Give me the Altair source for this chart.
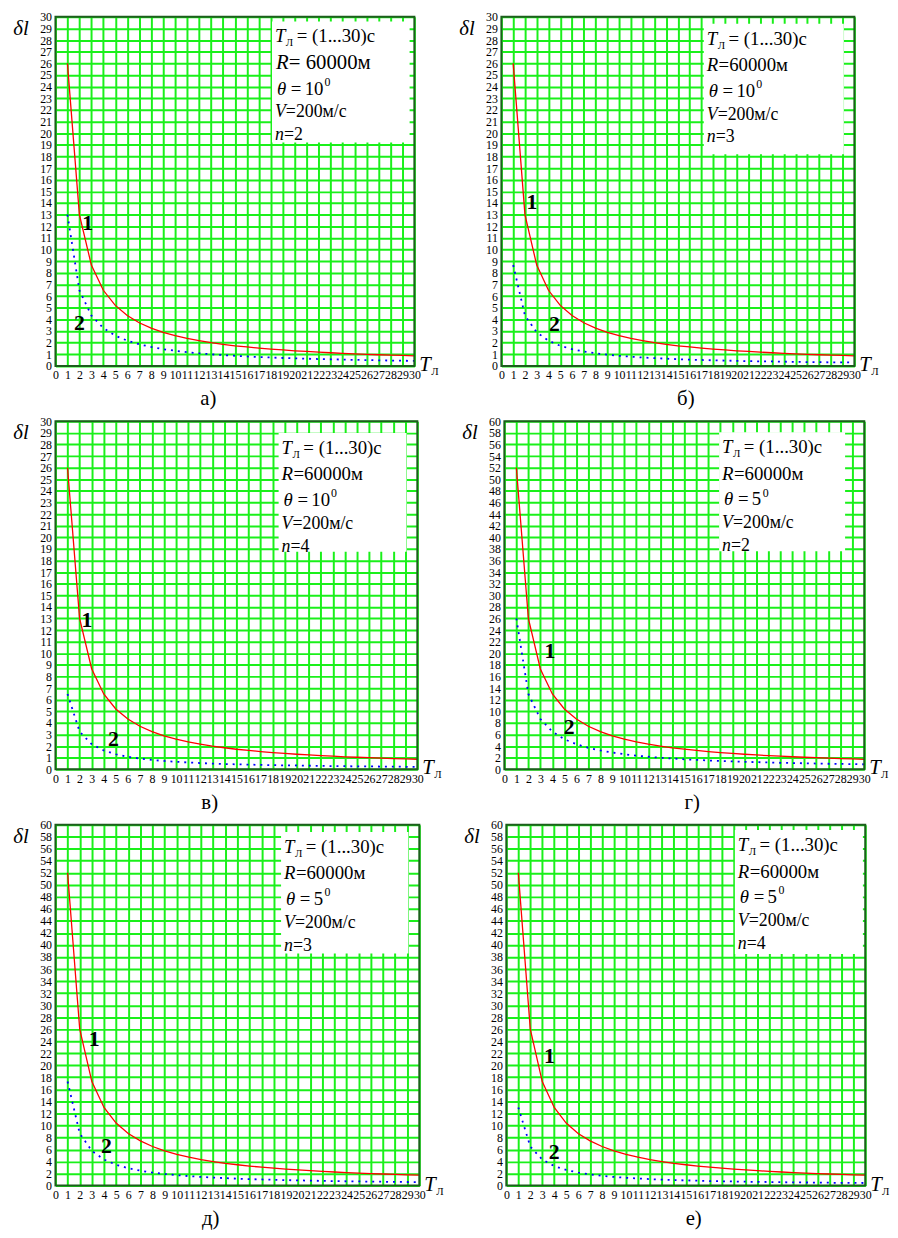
import altair as alt
import pandas as pd

SERIF = "Times New Roman, Liberation Serif, serif"

# ---------------- data ----------------
T = list(range(1, 31))

c1_theta10 = [26.0, 13.0, 8.67, 6.5, 5.2, 4.33, 3.71, 3.25, 2.89, 2.6, 2.36, 2.17, 2.0, 1.86, 1.73,
              1.63, 1.53, 1.44, 1.37, 1.3, 1.24, 1.18, 1.13, 1.08, 1.04, 1.0, 0.96, 0.93, 0.9, 0.87]
c2_theta10_n2 = [13.0, 6.5, 4.33, 3.25, 2.6, 2.17, 1.86, 1.63, 1.44, 1.3, 1.18, 1.08, 1.0, 0.93, 0.87,
                 0.81, 0.76, 0.72, 0.68, 0.65, 0.62, 0.59, 0.57, 0.54, 0.52, 0.5, 0.48, 0.46, 0.45, 0.43]
c2_theta10_n3 = [8.67, 4.33, 2.89, 2.17, 1.73, 1.44, 1.24, 1.08, 0.96, 0.87, 0.79, 0.72, 0.67, 0.62, 0.58,
                 0.54, 0.51, 0.48, 0.46, 0.43, 0.41, 0.39, 0.38, 0.36, 0.35, 0.33, 0.32, 0.31, 0.3, 0.29]
c2_theta10_n4 = [6.5, 3.25, 2.17, 1.63, 1.3, 1.08, 0.93, 0.81, 0.72, 0.65, 0.59, 0.54, 0.5, 0.46, 0.43,
                 0.41, 0.38, 0.36, 0.34, 0.33, 0.31, 0.3, 0.28, 0.27, 0.26, 0.25, 0.24, 0.23, 0.22, 0.22]
c1_theta5 = [52.0, 26.0, 17.3, 13.0, 10.4, 8.67, 7.43, 6.5, 5.78, 5.2, 4.73, 4.33, 4.0, 3.71, 3.47,
             3.25, 3.06, 2.89, 2.74, 2.6, 2.48, 2.36, 2.26, 2.17, 2.08, 2.0, 1.93, 1.86, 1.79, 1.73]
c2_theta5_n2 = [26.0, 13.0, 8.67, 6.5, 5.2, 4.33, 3.71, 3.25, 2.89, 2.6, 2.36, 2.17, 2.0, 1.86, 1.73,
                1.63, 1.53, 1.44, 1.37, 1.3, 1.24, 1.18, 1.13, 1.08, 1.04, 1.0, 0.96, 0.93, 0.9, 0.87]
c2_theta5_n3 = [17.3, 8.67, 5.78, 4.33, 3.47, 2.89, 2.48, 2.17, 1.93, 1.73, 1.58, 1.44, 1.33, 1.24, 1.16,
                1.08, 1.02, 0.96, 0.91, 0.87, 0.83, 0.79, 0.75, 0.72, 0.69, 0.67, 0.64, 0.62, 0.6, 0.58]
c2_theta5_n4 = [13.0, 6.5, 4.33, 3.25, 2.6, 2.17, 1.86, 1.63, 1.44, 1.3, 1.18, 1.08, 1.0, 0.93, 0.87,
                0.81, 0.76, 0.72, 0.68, 0.65, 0.62, 0.59, 0.57, 0.54, 0.52, 0.5, 0.48, 0.46, 0.45, 0.43]

x_ticks = list(range(0, 31))
y_ticks_30 = list(range(0, 31))
y_ticks_60 = list(range(0, 61, 2))

captions = ["а)", "б)", "в)", "г)", "д)", "е)"]
theta_vals = ["10", "10", "10", "5", "5", "5"]
n_vals = ["2", "3", "4", "2", "3", "4"]
curve1 = [c1_theta10, c1_theta10, c1_theta10, c1_theta5, c1_theta5, c1_theta5]
curve2 = [c2_theta10_n2, c2_theta10_n3, c2_theta10_n4, c2_theta5_n2, c2_theta5_n3, c2_theta5_n4]
y_max = [30, 30, 30, 60, 60, 60]
y_ticks = [y_ticks_30, y_ticks_30, y_ticks_30, y_ticks_60, y_ticks_60, y_ticks_60]

# layout / annotation placement (in data units of each panel)
box = [  # x0, x1, y0, y1
    (18.1, 29.6, 19.2, 29.6),
    (17.2, 29.1, 18.2, 29.4),
    (18.5, 29.1, 18.75, 29.0),
    (17.9, 28.4, 37.6, 58.1),
    (18.6, 29.1, 38.6, 58.8),
    (19.1, 29.8, 38.5, 59.1),
]
lab1 = [(2.7, 12.3), (2.6, 14.1), (2.6, 12.9), (3.8, 20.3), (3.2, 24.4), (3.6, 21.6)]
lab2 = [(2.0, 3.7), (4.5, 3.6), (4.8, 2.6), (5.4, 7.2), (4.2, 6.5), (4.0, 5.5)]
sizes = [(363, 353), (357, 353), (366, 352), (364, 352), (368, 365), (363, 365)]
cap_dx = [-27, 8, -27, 8, -27, 8]

GRID = "#1af01a"
FRAME = "#1d5e1d"


def xenc(field, p):
    return alt.X(field, type="quantitative",
                 scale=alt.Scale(domain=[0, 30], nice=False, zero=False),
                 axis=alt.Axis(values=x_ticks, title=None, grid=True, gridColor=GRID, gridWidth=2,
                               gridOpacity=1, ticks=False, domain=False, labelFont=SERIF,
                               labelFontSize=12, labelColor="black", labelPadding=4,
                               labelOverlap=False, labelFlush=False, labelBound=False,
                               format="d"))


def yenc(field, p):
    return alt.Y(field, type="quantitative",
                 scale=alt.Scale(domain=[0, y_max[p]], nice=False, zero=False),
                 axis=alt.Axis(values=y_ticks[p], title=None, grid=True, gridColor=GRID, gridWidth=2,
                               gridOpacity=1, ticks=False, domain=False, labelFont=SERIF,
                               labelFontSize=12, labelColor="black", labelPadding=4,
                               labelOverlap=False, labelFlush=False, labelBound=False,
                               format="d"))


def txt(p, x, y, s, size, dx=0, dy=0, italic=False, bold=False, align="left",
        baseline="alphabetic"):
    kw = dict(text=s, font=SERIF, fontSize=size, dx=dx, dy=dy, align=align,
              baseline=baseline, color="black")
    if italic:
        kw["fontStyle"] = "italic"
    if bold:
        kw["fontWeight"] = "bold"
    return alt.Chart(pd.DataFrame({"x": [x], "y": [y]})).mark_text(**kw).encode(
        x=xenc("x", p), y=yenc("y", p))


def panel(p):
    ymax = y_max[p]
    df = pd.DataFrame({"T": T, "c1": curve1[p], "c2": curve2[p]})
    base = alt.Chart(df)
    l1 = base.mark_line(color="#ff0000", strokeWidth=1.3).encode(x=xenc("T", p), y=yenc("c1", p))
    l2 = base.mark_line(color="#0000ff", strokeWidth=1.8, strokeDash=[2, 5]).encode(
        x=xenc("T", p), y=yenc("c2", p))

    x0, x1, y0, y1 = box[p]
    bx = alt.Chart(pd.DataFrame({"a": [x0], "b": [x1], "c": [y0], "d": [y1]})).mark_rect(
        color="white").encode(x=xenc("a", p), x2="b", y=yenc("c", p), y2="d")

    frame = alt.Chart(pd.DataFrame({"a": [0], "b": [30], "c": [0], "d": [ymax]})).mark_rect(
        fillOpacity=0, stroke=FRAME, strokeWidth=2).encode(
        x=xenc("a", p), x2="b", y=yenc("c", p), y2="d")

    layers = [bx, l1, l2]
    base_dy = [21, 48, 74, 97, 120]
    # line 1: T_Л = (1...30)с
    layers += [txt(p, x0, y1, "T", 19, dx=3, dy=base_dy[0], italic=True),
               txt(p, x0, y1, "Л", 11, dx=14, dy=base_dy[0] + 4),
               txt(p, x0, y1, "= (1...30)с", 19, dx=25, dy=base_dy[0])]
    # line 2: R = 60000м
    if p == 0:
        layers += [txt(p, x0, y1, "R", 21, dx=4, dy=base_dy[1], italic=True),
                   txt(p, x0, y1, " = 60000м", 21, dx=17, dy=base_dy[1])]
    else:
        layers += [txt(p, x0, y1, "R", 19, dx=3, dy=base_dy[1], italic=True),
                   txt(p, x0, y1, "=60000м", 19, dx=15, dy=base_dy[1])]
    # line 3: θ = 10⁰
    th = theta_vals[p]
    sup_dx = 33 + (19 if len(th) == 2 else 10) + 1
    layers += [txt(p, x0, y1, "θ", 19, dx=5, dy=base_dy[2], italic=True),
               txt(p, x0, y1, "=", 19, dx=19, dy=base_dy[2]),
               txt(p, x0, y1, th, 19, dx=33, dy=base_dy[2]),
               txt(p, x0, y1, "0", 12, dx=sup_dx, dy=base_dy[2] - 9)]
    # line 4: V=200м/с
    layers += [txt(p, x0, y1, "V", 18, dx=3, dy=base_dy[3], italic=True),
               txt(p, x0, y1, "=200м/с", 18, dx=14, dy=base_dy[3])]
    # line 5: n=2
    layers += [txt(p, x0, y1, "n", 18, dx=3, dy=base_dy[4], italic=True),
               txt(p, x0, y1, "=" + n_vals[p], 18, dx=12, dy=base_dy[4])]

    # curve labels
    layers += [txt(p, lab1[p][0], lab1[p][1], "1", 22, bold=True, align="center", baseline="middle"),
               txt(p, lab2[p][0], lab2[p][1], "2", 22, bold=True, align="center", baseline="middle")]

    # axis names
    layers += [txt(p, 0, ymax, "δl", 21, dx=-27, dy=18, italic=True, align="right"),
               txt(p, 30, 0, "T", 21, dx=5, dy=5, italic=True),
               txt(p, 30, 0, "Л", 11, dx=17, dy=9)]
    layers += [frame]

    w, h = sizes[p]
    return alt.layer(*layers).properties(
        width=w, height=h,
        title=alt.TitleParams(captions[p], orient="bottom", font=SERIF, fontSize=21,
                              fontWeight="normal", anchor="middle", frame="group",
                              dx=cap_dx[p], offset=8, color="black"))


rows = [alt.hconcat(panel(2 * r), panel(2 * r + 1), spacing=20) for r in range(3)]
chart = alt.vconcat(*rows, spacing=6).properties(
    padding={"left": 5, "top": -4, "right": 0, "bottom": 0}
).configure_view(stroke=None)

chart.save("out.html", embed_options={"renderer": "svg", "actions": False})
